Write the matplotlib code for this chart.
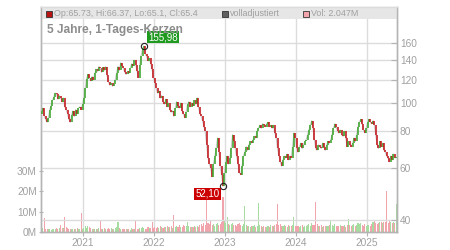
import matplotlib
matplotlib.use("Agg")
import matplotlib.pyplot as plt
import matplotlib.dates as mdates
from matplotlib.patches import Rectangle
import numpy as np
import pandas as pd

plt.rcParams['font.family'] = ['Liberation Sans', 'DejaVu Sans']

# weekly closes (EUR)
closes = [
    94, 96, 90, 88, 86, 89, 95, 98, 102, 105,
    108, 107, 103, 106, 104, 101, 104, 97, 95, 92,
    88, 86, 91, 94, 90, 95, 92, 96, 97, 95,
    99, 104, 112, 121, 125, 122, 119, 123, 120, 126,
    130, 128, 133, 131, 127, 132, 129, 133, 124, 118,
    115, 117, 114, 116, 120, 126, 133, 129, 137, 134,
    131, 127, 125, 128, 126, 131, 136, 134, 140, 135,
    128, 122, 135, 145, 152, 155.98, 147, 144, 139, 142,
    136, 130, 122, 117, 112, 108, 110, 104, 106, 101,
    99, 103, 97, 100, 95, 93, 94, 90, 96, 101,
    98, 96, 100, 94, 92, 89, 93, 99, 101, 97,
    100, 98, 102, 99, 104, 97, 92, 90, 87, 83,
    80, 72, 65, 62, 60, 56, 62, 66, 70, 76,
    68, 61, 57, 52.10, 58, 63, 66, 62, 65, 70,
    78, 74, 70, 66, 62, 58, 57, 61, 66, 68,
    71, 69, 72, 74, 73, 75, 77, 76, 80, 82,
    84, 82, 85, 84, 83, 85, 86, 83, 84, 82,
    84, 79, 76, 70, 66, 63, 61, 64, 66, 65,
    67, 64, 66, 65, 71, 79, 76, 70, 68, 71,
    73, 70, 72, 74, 75, 78, 81, 84, 87, 82,
    75, 70, 69, 72, 71, 70, 73, 71, 69, 72,
    74, 73, 75, 78, 82, 85, 83, 80, 79, 81,
    78, 77, 80, 76, 71, 74, 72, 71, 73, 76,
    74, 78, 83, 86, 88, 85, 81, 79, 82, 86,
    88, 86, 85, 87, 84, 78, 72, 70, 74, 71,
    73, 69, 68, 66, 65, 63, 66, 64, 67, 65,
    65.4,
]
first_open = 92

# volume in millions
volumes = [
    3.0, 1.8, 7.0, 1.5, 1.6, 1.4, 1.7, 1.2, 1.5, 1.3,
    1.6, 1.8, 1.4, 2.0, 3.5, 2.2, 1.9, 7.5, 2.6, 1.8,
    1.5, 1.7, 1.4, 1.6, 1.3, 1.5, 1.9, 1.4, 1.7, 9.5,
    1.6, 2.1, 2.8, 1.9, 3.2, 2.4, 1.8, 1.6, 1.5, 1.7,
    1.4, 1.3, 1.8, 5.5, 1.6, 1.5, 1.9, 1.4, 1.6, 2.0,
    1.5, 1.8, 1.3, 1.7, 2.2, 2.6, 5.0, 1.9, 1.6, 1.4,
    1.5, 1.3, 1.7, 1.4, 1.6, 1.2, 1.8, 1.5, 1.3, 6.0,
    1.7, 1.4, 1.9, 2.1, 2.6, 1.8, 1.5, 1.6, 2.3, 1.9,
    2.2, 5.0, 2.0, 2.4, 2.1, 2.6, 1.9, 2.8, 2.5, 2.2,
    2.7, 2.3, 3.0, 2.4, 2.6, 2.9, 2.2, 8.5, 2.4, 3.1,
    2.6, 3.3, 2.7, 2.5, 3.6, 2.9, 3.2, 5.0, 2.8, 2.4,
    2.6, 2.3, 2.9, 2.5, 3.0, 2.7, 3.4, 3.8, 3.1, 4.2,
    3.6, 19.0, 4.4, 3.9, 6.0, 3.5, 4.1, 3.2, 3.8, 4.6,
    3.4, 4.0, 4.8, 17.0, 5.2, 4.3, 7.5, 3.9, 3.4, 3.7,
    4.5, 3.6, 3.3, 3.0, 3.8, 4.2, 3.5, 3.1, 3.9, 13.0,
    3.4, 2.8, 3.1, 2.6, 3.2, 2.9, 3.6, 2.7, 3.0, 14.5,
    3.3, 2.8, 2.6, 3.1, 2.4, 2.7, 2.9, 2.5, 3.4, 3.0,
    2.8, 3.6, 4.1, 14.0, 3.5, 3.9, 3.2, 2.8, 3.4, 3.0,
    2.7, 3.3, 2.9, 3.1, 3.6, 7.5, 3.2, 2.8, 3.0, 2.6,
    2.9, 3.3, 2.7, 3.1, 2.8, 3.5, 3.9, 3.2, 4.4, 3.6,
    3.3, 15.0, 3.8, 3.1, 2.9, 3.4, 2.7, 3.0, 3.2, 2.8,
    3.1, 3.5, 6.0, 3.3, 2.9, 3.7, 3.2, 2.8, 3.0, 3.4,
    3.1, 2.9, 3.3, 2.7, 3.6, 6.5, 3.4, 3.0, 3.3, 3.8,
    3.2, 3.6, 4.4, 3.9, 4.2, 3.5, 3.1, 3.7, 3.0, 3.4,
    3.6, 3.2, 4.1, 4.8, 5.2, 4.6, 3.9, 4.4, 5.1, 4.7,
    4.3, 4.8, 5.0, 20.0, 4.6, 5.2, 4.9, 4.5, 5.0, 4.4,
    14.0,
]

start_date = "2020-06-05"
price_ticks = [40, 60, 80, 100, 120, 140, 160]
vol_ticks = [0, 10, 20, 30]
vol_tick_labels = ["0M", "10M", "20M", "30M"]
year_ticks = [2021, 2022, 2023, 2024, 2025]
high_label = "155,98"
low_label = "52,10"
legend_ohlc = "Op:65.73, Hi:66.37, Lo:65.1, Cl:65.4"
legend_adj = "volladjustiert"
legend_vol = "Vol: 2.047M"
title = "5 Jahre, 1-Tages-Kerzen"

n = len(closes)
dates = pd.date_range(start_date, periods=n, freq="7D")
opens = [first_open] + closes[:-1]
up = [c >= o for o, c in zip(opens, closes)]

GREEN = "#3da52c"
RED = "#c4161c"
VGREEN = "#a6dca0"
VRED = "#f2a4ac"
GRID = "#dcdcdc"
TXT = "#a0a0a0"

W, H = 450, 250
fig = plt.figure(figsize=(4.5, 2.5), dpi=100)
L, R, T, B = 41, 397, 7, 232
ax_v = fig.add_axes([L / W, 1 - B / H, (R - L) / W, (B - T) / H])
ax_p = ax_v.twinx()

x0 = pd.Timestamp("2020-06-02")
x1 = pd.Timestamp("2025-06-03")

# volume
vcols = [VGREEN if u else VRED for u in up]
ax_v.bar(dates, volumes, width=5.5, color=vcols, linewidth=0, zorder=2)
ax_v.set_ylim(0, 110.8)
ax_v.set_yticks(vol_ticks)
ax_v.set_yticklabels(vol_tick_labels)
ax_v.set_xlim(x0, x1)

# price candles
ax_p.set_yscale("log")
ax_p.set_ylim(36.4, 212)
ax_p.plot(dates, closes, color="#c8c8c8", lw=0.8, zorder=2)
ccols = [GREEN if u else RED for u in up]
ax_p.vlines(dates, [min(o, c) for o, c in zip(opens, closes)],
            [max(o, c) for o, c in zip(opens, closes)],
            colors=ccols, lw=1.15, zorder=3)
ax_p.set_yticks(price_ticks)
ax_p.set_yticklabels([str(t) for t in price_ticks])
ax_p.yaxis.set_minor_locator(matplotlib.ticker.NullLocator())
ax_p.set_xlim(x0, x1)

# grids
for yv in price_ticks:
    ax_p.axhline(yv, color=GRID, lw=1.0, zorder=0.6)
for yr in year_ticks:
    ax_v.axvline(pd.Timestamp(f"{yr}-01-01"), color=GRID, lw=1.0, zorder=0.6)

ax_v.set_xticks([pd.Timestamp(f"{yr}-01-01") for yr in year_ticks])
ax_v.set_xticklabels([str(y) for y in year_ticks])

for a in (ax_v, ax_p):
    for s in a.spines.values():
        s.set_color("#b4b4b4")
        s.set_linewidth(1.0)
    a.spines["top"].set_color(GRID)
ax_v.tick_params(axis="both", colors="#b4b4b4", labelcolor=TXT, labelsize=7.3,
                 length=3, width=0.8, direction="inout", pad=1.5)
ax_p.tick_params(axis="y", colors="#b4b4b4", labelcolor=TXT, labelsize=7.3,
                 length=4, width=0.8, direction="in", pad=2)
ax_v.tick_params(axis="x", direction="out", length=3, pad=1.5)
ax_p.patch.set_visible(False)

# header band
band_h = 12 / (B - T)
ax_p.add_patch(Rectangle((0, 1 - band_h), 1, band_h, transform=ax_p.transAxes,
                         facecolor="#e6e6e6", edgecolor="none", zorder=0.55))

def px(x, y):
    return x / W, 1 - y / H

def legend_item(x, face, label):
    fig.patches.append(Rectangle(px(x, 16.5), 5.5 / W, 5.5 / H,
                                 transform=fig.transFigure, facecolor=face,
                                 edgecolor="#333333", lw=0.6, zorder=5))
    fig.text(*px(x + 8, 13.8), label, fontsize=6.4, color=TXT, va="center",
             ha="left", zorder=5)

legend_item(46, "#b81414", legend_ohlc)
legend_item(222, "#606060", legend_adj)
legend_item(303, "#f2a4ac", legend_vol)

fig.text(*px(47, 30), title, fontsize=8.6, color="#8c8c8c", fontweight="bold",
         va="center", ha="left")

# high / low markers
i_hi = int(np.argmax(closes))
i_lo = int(np.argmin(closes))
ax_p.plot([dates[i_hi]], [closes[i_hi]], marker="o", ms=4.5, mfc="none",
          mec="#222222", mew=0.8, zorder=6)
ax_p.plot([dates[i_lo]], [closes[i_lo]], marker="o", ms=4.5, mfc="none",
          mec="#222222", mew=0.8, zorder=6)
ax_p.annotate(high_label, (dates[i_hi], closes[i_hi]), xytext=(3, 3),
              textcoords="offset points", fontsize=7, color="white",
              va="bottom", ha="left",
              bbox=dict(boxstyle="square,pad=0.15", fc="#1e9a1e", ec="none"),
              zorder=7)
ax_p.annotate(low_label, (dates[i_lo], closes[i_lo]), xytext=(-2.5, -2),
              textcoords="offset points", fontsize=7, color="white",
              va="top", ha="right",
              bbox=dict(boxstyle="square,pad=0.15", fc="#cc0000", ec="none"),
              zorder=7)

fig.savefig("out.png", dpi=100)
